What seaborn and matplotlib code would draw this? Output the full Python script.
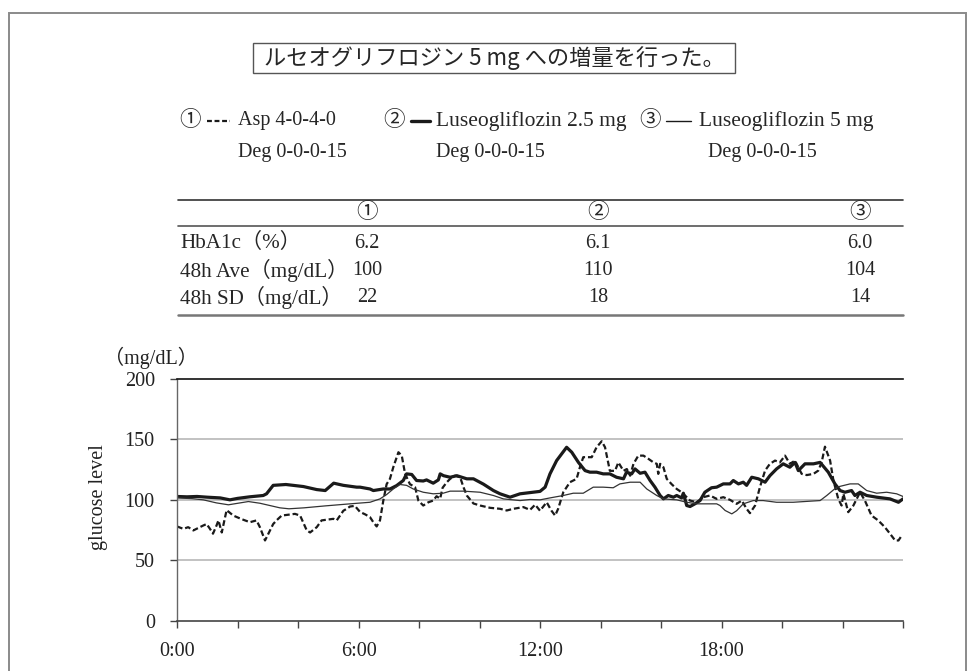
import matplotlib
matplotlib.use("Agg")
import matplotlib.pyplot as plt
from matplotlib.lines import Line2D
from matplotlib.patches import Rectangle
import seaborn as sns

sns.set_theme(style="white")
plt.rcParams['font.family'] = ['Liberation Serif', 'Noto Sans CJK JP', 'DejaVu Sans']

# ---- data (hours since 0:00, mg/dL) ----
asp_hours = [0.0, 0.21, 0.37, 0.54, 0.87, 0.98, 1.09, 1.19, 1.31, 1.37, 1.48, 1.64, 1.86,
             2.14, 2.41, 2.63, 2.74, 2.91, 3.02, 3.18, 3.29, 3.46, 3.90, 4.07, 4.29, 4.40,
             4.62, 4.78, 5.17, 5.28, 5.50, 5.61, 5.72, 5.88, 6.05, 6.22, 6.38, 6.49, 6.60,
             6.71, 6.82, 6.93, 7.04, 7.15, 7.32, 7.43, 7.54, 7.70, 7.87, 7.98, 8.14, 8.31,
             8.47, 8.58, 8.70, 8.78, 8.92, 9.03, 9.19, 9.36, 9.47, 9.58, 9.80, 10.02, 10.35,
             10.68, 10.90, 11.12, 11.45, 11.67, 11.84, 12.00, 12.22, 12.38, 12.50, 12.60,
             12.77, 12.99, 13.21, 13.32, 13.43, 13.71, 13.87, 14.04, 14.15, 14.31, 14.48,
             14.59, 14.76, 14.87, 14.98, 15.09, 15.25, 15.42, 15.58, 15.75, 15.86, 15.91,
             15.97, 16.08, 16.19, 16.35, 16.52, 16.68, 16.85, 16.96, 17.18, 17.40, 17.62,
             17.84, 18.06, 18.28, 18.50, 18.67, 18.83, 18.94, 19.11, 19.27, 19.44, 19.60,
             19.77, 19.93, 20.10, 20.26, 20.43, 20.65, 20.82, 21.04, 21.20, 21.31, 21.42,
             21.59, 21.70, 21.86, 21.97, 22.03, 22.19, 22.36, 22.58, 22.74, 22.96, 23.18,
             23.40, 23.57, 23.74, 23.85, 23.96]
asp_glucose = [78, 76, 77.4, 74.7, 78.8, 80, 76, 72, 79, 83, 73, 91.5, 87,
               84, 81.5, 83, 77.4, 66.4, 72, 80, 83, 87, 88.4, 87, 74.7, 73,
               77.4, 83, 84.3, 83, 91, 92.6, 94.5, 95, 90, 88, 85.7, 81.5, 78,
               83, 99.4, 113, 117.4, 127, 139.4, 136.6, 121.5, 113, 110.5, 99.4, 95.3, 98,
               99.4, 103, 101, 110, 114.6, 117.4, 120, 118.7, 110.5, 103.6, 97, 95.3, 93.4,
               92.6, 91.2, 92.6, 94, 91.7, 96, 91, 98, 91, 87, 92.6,
               106.3, 114.6, 117.4, 127, 135.3, 135.3, 143.5, 148.5, 143.5, 124, 124,
               131, 124, 125.5, 120, 129.8, 136.6, 136.6, 134, 131, 129.8, 121.5,
               129.8, 127, 117.4, 113, 109, 106.3, 102.2, 99.4, 98, 102.2, 103.6,
               100.8, 102.2, 100, 96.7, 99.4, 92.6, 89, 95.3, 110.5, 124.2, 129.8,
               132.5, 131, 136.6, 129.8, 132.5, 121.5, 120.5, 121.5, 124.2, 131, 144,
               132.5, 116, 100.8, 95.3, 105, 89.8, 95.3, 106.3, 99.4, 87, 83,
               77.4, 72, 66.4, 66.4, 70.5]

luseo25_hours = [0.0, 0.33, 0.66, 1.0, 1.43, 1.75, 2.0, 2.4, 2.85, 2.96, 3.18, 3.60, 4.18,
                 4.62, 4.90, 5.18, 5.50, 5.94, 6.05, 6.38, 6.49, 6.82, 7.04, 7.26, 7.48,
                 7.59, 7.76, 7.92, 8.14, 8.25, 8.47, 8.64, 8.70, 8.81, 9.03, 9.25, 9.58,
                 9.80, 10.13, 10.46, 10.68, 11.01, 11.34, 11.67, 12.00, 12.17, 12.33, 12.55,
                 12.88, 13.05, 13.27, 13.49, 13.65, 13.87, 14.09, 14.31, 14.53, 14.76, 14.86,
                 15.03, 15.14, 15.31, 15.47, 15.64, 15.80, 15.97, 16.08, 16.24, 16.41, 16.52,
                 16.68, 16.74, 16.85, 16.96, 17.12, 17.29, 17.45, 17.67, 17.84, 18.06, 18.28,
                 18.39, 18.56, 18.72, 18.83, 19.00, 19.22, 19.44, 19.60, 19.82, 20.04, 20.26,
                 20.43, 20.54, 20.76, 21.04, 21.26, 21.53, 21.75, 21.92, 22.08, 22.30, 22.41,
                 22.58, 22.80, 23.13, 23.57, 23.85, 24.0]
luseo25_glucose = [102.8, 102.5, 102.8, 102.2, 101.6, 100, 101.2, 102.5, 103.6, 105, 112, 112.7, 111,
                   108.5, 107.7, 113.8, 112, 110.5, 110.5, 109, 107.7, 109, 109, 111.8, 116,
                   121.5, 121, 116, 115.6, 116.5, 113.8, 116.5, 121.5, 120, 118.7, 120, 117.4,
                   117.4, 113, 107.7, 105, 102.2, 105, 106, 107, 110.5, 121.5, 132.5,
                   143.5, 139.4, 131, 124.2, 122.9, 122.9, 121.5, 121.5, 118.7, 117.4, 122.9,
                   121.5, 125.6, 122, 122.9, 116, 110.5, 103.6, 100.8, 103.6, 102.2, 103.6,
                   101.6, 105.5, 95.3, 94.5, 96.7, 99.4, 106.3, 110, 110.5, 113.2, 113.2,
                   116, 113.2, 114.6, 112, 118.7, 117.4, 114.6, 120, 125.6, 129.8, 127,
                   131, 124.2, 129.8, 129.8, 131, 122.9, 113.2, 107.7, 106.3, 107.7, 103.6,
                   106.3, 103.6, 102.2, 100.8, 98, 100.8]

luseo5_hours = [0.0, 0.50, 0.87, 1.30, 1.70, 2.36, 2.74, 3.40, 3.70, 4.20, 4.90, 5.72, 6.38,
                6.71, 6.93, 7.15, 7.37, 7.59, 7.81, 8.14, 8.47, 8.80, 9.03, 9.47, 10.02,
                10.46, 10.79, 11.34, 11.67, 12.00, 12.33, 12.77, 13.10, 13.43, 13.76, 14.09,
                14.42, 14.64, 14.98, 15.31, 15.53, 15.86, 16.08, 16.52, 16.85, 17.18, 17.84,
                17.95, 18.12, 18.34, 18.50, 18.72, 19.05, 19.38, 19.82, 20.37, 20.93, 21.26,
                21.48, 21.81, 22.25, 22.52, 22.80, 23.13, 23.46, 23.79, 24.0]
luseo5_glucose = [101.6, 101, 100, 97.5, 95.9, 98.6, 97.2, 93.4, 92.6, 93.4, 95, 96.7, 98,
                  100.8, 104.4, 109, 112.7, 112, 109, 106.3, 105, 105.5, 107.2, 107.2, 106.3,
                  103.6, 100.8, 99.4, 100.3, 100, 101.6, 103.6, 105.5, 105.5, 110.5, 110.5,
                  110, 113.2, 114.6, 114.6, 109, 103.6, 100.8, 100, 98, 96.7, 96.7,
                  95.3, 91.2, 88.4, 91, 96.7, 99.4, 99.4, 98, 98, 98.9, 99.4,
                  103.6, 110.5, 113.2, 113.2, 107.7, 105.5, 106.3, 105, 102.8]

row_labels = ["HbA1c（%）", "48h Ave（mg/dL）", "48h SD（mg/dL）"]
col_heads = ["①", "②", "③"]
table_values = [["6.2", "6.1", "6.0"], ["100", "110", "104"], ["22", "18", "14"]]

x_ticks = [0, 2, 4, 6, 8, 10, 12, 14, 16, 18, 20, 22, 24]
x_ticklabels = ["0:00", "", "", "6:00", "", "", "12:00", "", "", "18:00", "", "", ""]
y_ticks = [0, 50, 100, 150, 200]

W, H = 976, 671
def fx(px):
    return px / W
def fy(py):
    return 1 - py / H

fig = plt.figure(figsize=(W / 100, H / 100), dpi=100)
fig.patch.set_facecolor("white")

# outer frame (bottom edge runs off the page)
fig.add_artist(Rectangle((fx(9), -0.05), fx(966) - fx(9), fy(13) + 0.05,
                         transform=fig.transFigure, fill=False, ec="#8a8a8a", lw=1.4))

# ---- heading box ----
fig.add_artist(Rectangle((fx(253), fy(73)), fx(735) - fx(253), fy(43) - fy(73),
                         transform=fig.transFigure, fill=False, ec="#555555", lw=1.0))
fig.text(fx(494), fy(58), "ルセオグリフロジン 5 mg への増量を行った。", ha="center", va="center",
         fontsize=16, family=['Noto Sans CJK JP', 'Liberation Serif'])

# ---- legend block ----
fs = 14.5
fs_wide = 15.5
circ = 15.5
legend_items = [
    (190, 207, 230, 238, 238, "Asp 4-0-4-0", dict(lw=1.6, ls=(0, (2.2, 1.2)))),
    (394, 411, 430, 436, 436, "Luseogliflozin 2.5 mg", dict(lw=2.4, ls="-")),
    (650, 666, 691, 699, 708, "Luseogliflozin 5 mg", dict(lw=1.0, ls="-")),
]
for num, (cx, l0, l1, tx, tx2, label, style) in zip(col_heads, legend_items):
    fig.text(fx(cx), fy(121), num, ha="center", va="center", fontsize=circ)
    fig.add_artist(Line2D([fx(l0), fx(l1)], [fy(121), fy(121)], color="#1a1a1a", **style))
    fig.text(fx(tx), fy(121), label, ha="left", va="center",
             fontsize=fs_wide if "Luseo" in label else fs)
    fig.text(fx(tx2), fy(153), "Deg 0-0-0-15", ha="left", va="center", fontsize=fs)

# ---- summary table ----
fig.add_artist(Line2D([fx(178), fx(903)], [fy(200), fy(200)], color="#333333", lw=1.2))
fig.add_artist(Line2D([fx(178), fx(903)], [fy(226), fy(226)], color="#555555", lw=1.2))
fig.add_artist(Line2D([fx(178), fx(903)], [fy(315), fy(315)], color="#777777", lw=1.8))
col_x = [367, 598, 860]
row_y = [243, 270, 297]
for cx, head in zip(col_x, col_heads):
    fig.text(fx(cx), fy(213), head, ha="center", va="center", fontsize=circ)
for ry, lab, vals in zip(row_y, row_labels, table_values):
    fig.text(fx(180), fy(ry), lab, ha="left", va="center", fontsize=15.2)
    for cx, v in zip(col_x, vals):
        fig.text(fx(cx), fy(ry), v, ha="center", va="center", fontsize=fs)

# ---- glucose chart ----
ax = fig.add_axes([fx(177), fy(620.7), fx(903) - fx(177), fy(379) - fy(620.7)])
ax.set_facecolor("white")

sns.lineplot(x=asp_hours, y=asp_glucose, ax=ax, estimator=None, color="#1a1a1a",
             lw=1.6, linestyle=(0, (2.6, 1.3)))
sns.lineplot(x=luseo25_hours, y=luseo25_glucose, ax=ax, estimator=None, color="#1a1a1a", lw=2.3)
sns.lineplot(x=luseo5_hours, y=luseo5_glucose, ax=ax, estimator=None, color="#333333", lw=0.9)

for g in [50, 100, 150]:
    ax.axhline(g, color="#bdbdbd", lw=1.3, zorder=0)

ax.set_xlim(0, 24)
ax.set_ylim(0, 200)
ax.set_xticks(x_ticks)
ax.set_xticklabels(x_ticklabels)
ax.set_yticks(y_ticks)
ax.tick_params(axis="both", bottom=True, left=True, direction="out", length=5, width=1.0,
               colors="#444444", labelcolor="#222222", labelsize=14.5, pad=10)
ax.tick_params(axis="y", pad=11)

ax.spines["right"].set_visible(False)
ax.spines["top"].set_color("#111111")
ax.spines["top"].set_linewidth(1.2)
ax.spines["left"].set_color("#666666")
ax.spines["bottom"].set_color("#444444")
ax.spines["left"].set_linewidth(1.0)
ax.spines["bottom"].set_linewidth(1.2)

ax.set_xlabel("")
ax.set_ylabel("")
fig.text(fx(98), fy(497), "glucose level", rotation=90, ha="center", va="center",
         fontsize=14.5, color="#222222")
fig.text(fx(151), fy(358), "（mg/dL）", ha="center", va="center", fontsize=14.5, color="#222222")

fig.savefig("out.png", dpi=100, facecolor="white")
